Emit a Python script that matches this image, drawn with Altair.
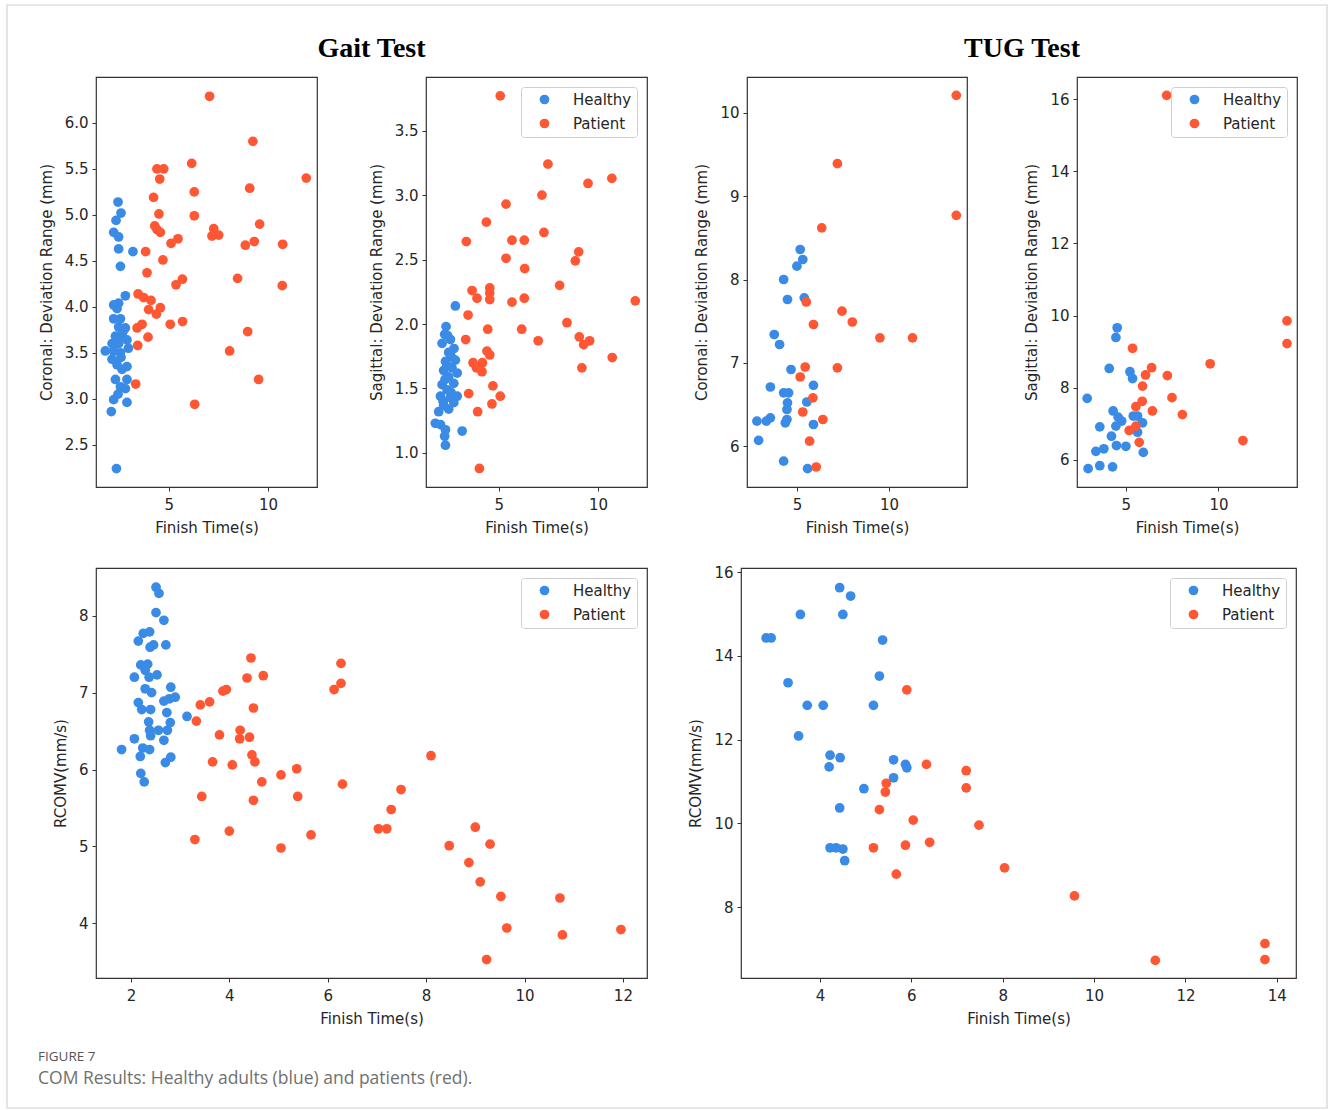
import altair as alt
import pandas as pd

BLUE = "#3A8BE6"
RED = "#FF5733"
GROUPS = ["Healthy", "Patient"]

# ---------------- Gait test: coronal deviation range ----------------
g_cor_h_x = [2.45, 2.60, 2.35, 2.23, 2.48, 2.48, 2.57, 3.20, 2.82, 2.48, 2.23, 2.40, 2.23, 2.57,
             2.82, 2.48, 2.32, 2.65, 2.90, 2.48, 2.97, 1.81, 2.23, 2.57, 2.15, 2.40, 2.90, 2.65,
             2.32, 2.90, 2.57, 2.82, 2.45, 2.23, 2.90, 2.11, 2.37, 2.70, 2.15, 2.60]
g_cor_h_y = [5.14, 5.02, 4.94, 4.81, 4.76, 4.63, 4.44, 4.60, 4.12, 4.04, 4.02, 3.98, 3.87, 3.87,
             3.77, 3.78, 3.68, 3.68, 3.64, 3.60, 3.55, 3.52, 3.52, 3.50, 3.43, 3.37, 3.35, 3.32,
             3.21, 3.21, 3.13, 3.11, 3.05, 2.99, 2.96, 2.86, 2.24, 3.73, 3.60, 3.45]
g_cor_p_x = [7.06, 9.24, 6.16, 4.41, 4.75, 4.55, 11.93, 4.24, 9.08, 6.29, 4.51, 6.29, 4.30, 4.41,
             4.58, 7.27, 7.18, 7.52, 9.58, 5.47, 5.12, 8.86, 9.31, 10.74, 3.84, 4.71, 3.91, 5.37,
             5.69, 8.47, 10.72, 3.46, 3.74, 4.11, 3.99, 4.58, 4.38, 3.41, 3.66, 5.08, 5.70, 3.96,
             3.44, 8.98, 8.07, 3.34, 9.53, 6.31]
g_cor_p_y = [6.29, 5.80, 5.56, 5.50, 5.50, 5.39, 5.40, 5.19, 5.29, 5.25, 5.01, 4.99, 4.88, 4.84,
             4.81, 4.85, 4.77, 4.78, 4.90, 4.74, 4.69, 4.67, 4.71, 4.68, 4.60, 4.51, 4.37, 4.24,
             4.30, 4.31, 4.23, 4.14, 4.10, 4.07, 3.97, 3.99, 3.92, 3.77, 3.81, 3.81, 3.84, 3.67,
             3.58, 3.73, 3.52, 3.16, 3.21, 2.94]

# ---------------- Gait test: sagittal deviation range ----------------
g_sag_h_x = [2.82, 2.35, 2.28, 2.57, 2.15, 2.75, 2.48, 2.82, 2.32, 2.65, 2.23, 2.91, 2.48, 2.15,
             2.74, 2.40, 2.91, 2.57, 2.07, 2.23, 2.74, 2.48, 1.98, 1.81, 2.07, 2.32, 3.16, 2.28,
             2.32, 2.43, 2.60, 2.40, 2.30, 2.60, 2.20]
g_sag_h_y = [2.14, 1.98, 1.92, 1.88, 1.85, 1.81, 1.78, 1.72, 1.71, 1.66, 1.64, 1.62, 1.59, 1.53,
             1.54, 1.49, 1.44, 1.43, 1.44, 1.37, 1.39, 1.34, 1.32, 1.23, 1.22, 1.18, 1.17, 1.13,
             1.06, 1.91, 1.75, 1.68, 1.57, 1.47, 1.40]
g_sag_p_x = [5.08, 7.48, 10.70, 9.50, 7.18, 5.37, 4.38, 3.37, 5.67, 6.29, 7.28, 5.37, 6.31, 9.03,
             8.86, 8.07, 3.66, 3.91, 4.55, 4.55, 4.55, 5.67, 6.29, 11.88, 3.46, 6.16, 4.45, 8.44,
             3.34, 6.99, 9.06, 9.28, 9.58, 10.72, 4.41, 4.55, 3.71, 4.18, 3.88, 4.16, 9.19, 3.49,
             4.71, 5.08, 4.66, 3.94, 4.03]
g_sag_p_y = [3.77, 3.24, 3.13, 3.09, 3.00, 2.93, 2.79, 2.64, 2.65, 2.65, 2.71, 2.51, 2.43, 2.56,
             2.49, 2.30, 2.26, 2.20, 2.28, 2.24, 2.19, 2.17, 2.20, 2.18, 2.07, 1.96, 1.96, 2.01,
             1.88, 1.87, 1.90, 1.84, 1.87, 1.74, 1.79, 1.76, 1.70, 1.70, 1.66, 1.63, 1.66, 1.46,
             1.52, 1.44, 1.38, 1.32, 0.88]

# ---------------- TUG test: coronal deviation range ----------------
t_cor_h_x = [5.18, 5.32, 5.00, 4.28, 4.49, 5.40, 3.77, 4.06, 4.68, 3.56, 5.90, 4.28, 4.55, 4.49,
             5.54, 4.46, 2.83, 3.34, 3.56, 4.46, 4.37, 5.90, 2.92, 4.28, 5.58]
t_cor_h_y = [8.36, 8.24, 8.16, 8.00, 7.76, 7.78, 7.34, 7.22, 6.92, 6.71, 6.73, 6.64, 6.64, 6.52,
             6.53, 6.44, 6.30, 6.30, 6.34, 6.32, 6.28, 6.26, 6.07, 5.82, 5.73]
t_cor_p_x = [13.66, 13.66, 7.20, 6.35, 5.51, 7.45, 8.01, 5.90, 9.51, 11.28, 5.45, 7.20, 5.18, 5.87,
             5.32, 6.41, 5.69, 6.05]
t_cor_p_y = [10.21, 8.77, 9.39, 8.62, 7.73, 7.62, 7.49, 7.46, 7.30, 7.30, 6.95, 6.94, 6.83, 6.58,
             6.41, 6.32, 6.06, 5.75]

# ---------------- TUG test: sagittal deviation range ----------------
t_sag_h_x = [4.53, 4.46, 4.10, 5.22, 5.36, 2.91, 4.31, 4.58, 4.77, 5.40, 5.63, 5.90, 4.46, 3.59,
             4.22, 5.63, 4.49, 5.00, 3.38, 3.81, 5.94, 2.96, 3.59, 4.28]
t_sag_h_y = [9.66, 9.39, 8.53, 8.44, 8.25, 7.70, 7.35, 7.18, 7.07, 7.21, 7.21, 7.02, 6.93, 6.91,
             6.65, 6.76, 6.39, 6.37, 6.23, 6.30, 6.20, 5.75, 5.83, 5.80]
t_sag_p_x = [7.20, 13.70, 13.70, 5.36, 9.55, 6.39, 6.06, 7.24, 5.90, 5.88, 7.49, 5.54, 6.43, 8.05,
             5.18, 5.54, 5.72, 11.32]
t_sag_p_y = [16.11, 9.85, 9.22, 9.09, 8.66, 8.55, 8.35, 8.33, 8.04, 7.62, 7.72, 7.47, 7.35, 7.25,
             6.81, 6.93, 6.48, 6.53]

# ---------------- Gait test: RCOMV ----------------
g_rc_h_x = [2.51, 2.57, 2.51, 2.67, 2.25, 2.38, 2.15, 2.39, 2.46, 2.71, 2.20, 2.34, 2.07, 2.29,
            2.53, 2.37, 2.81, 2.29, 2.42, 2.90, 2.67, 2.15, 2.78, 2.22, 2.40, 2.73, 3.14, 2.36,
            2.80, 2.38, 2.56, 2.74, 2.40, 2.67, 2.07, 1.81, 2.24, 2.38, 2.19, 2.81, 2.70, 2.20,
            2.27]
g_rc_h_y = [8.37, 8.29, 8.04, 7.94, 7.77, 7.79, 7.67, 7.59, 7.62, 7.62, 7.36, 7.37, 7.20, 7.29,
            7.23, 7.20, 7.07, 7.05, 7.00, 6.94, 6.89, 6.87, 6.92, 6.78, 6.78, 6.74, 6.69, 6.62,
            6.61, 6.51, 6.51, 6.51, 6.44, 6.38, 6.40, 6.26, 6.28, 6.26, 6.17, 6.16, 6.09, 5.95,
            5.84]
g_rc_p_x = [4.44, 6.27, 4.36, 4.69, 6.27, 6.13, 3.87, 3.94, 3.41, 3.60, 4.49, 3.33, 3.80, 4.22,
            4.21, 4.41, 4.46, 4.52, 3.66, 4.06, 6.30, 4.66, 5.05, 5.37, 3.44, 5.39, 4.49, 4.00,
            3.30, 5.66, 5.05, 8.10, 7.49, 7.29, 7.03, 7.20, 9.00, 8.47, 9.30, 8.87, 9.10, 9.52,
            10.72, 9.64, 10.77, 11.96, 9.23]
g_rc_p_y = [7.45, 7.38, 7.19, 7.22, 7.12, 7.04, 7.02, 7.04, 6.84, 6.88, 6.80, 6.63, 6.45, 6.51,
            6.40, 6.42, 6.19, 6.10, 6.10, 6.06, 5.81, 5.84, 5.93, 6.01, 5.65, 5.65, 5.60, 5.20,
            5.09, 5.15, 4.98, 6.18, 5.74, 5.48, 5.23, 5.23, 5.25, 5.01, 5.03, 4.79, 4.54, 4.35,
            4.33, 3.94, 3.85, 3.92, 3.53]

# ---------------- TUG test: RCOMV ----------------
t_rc_h_x = [4.43, 4.67, 3.57, 4.50, 2.82, 2.93, 5.37, 5.30, 3.30, 3.72, 4.07, 5.17, 3.53, 4.22,
            4.44, 4.20, 5.61, 5.87, 5.90, 5.61, 4.96, 4.43, 4.22, 4.35, 4.50, 4.54]
t_rc_h_y = [15.63, 15.43, 14.99, 14.99, 14.43, 14.43, 14.38, 13.52, 13.36, 12.82, 12.82, 12.82,
            12.09, 11.63, 11.57, 11.35, 11.52, 11.41, 11.33, 11.09, 10.83, 10.37, 9.42, 9.42,
            9.39, 9.11]
t_rc_p_x = [5.90, 6.33, 7.20, 7.20, 5.45, 5.43, 5.30, 6.04, 7.48, 5.17, 5.87, 6.40, 5.67, 8.04,
            9.57, 11.34, 13.74, 13.74]
t_rc_p_y = [13.19, 11.41, 11.26, 10.85, 10.96, 10.75, 10.33, 10.08, 9.96, 9.42, 9.48, 9.55, 8.79,
            8.94, 8.27, 6.73, 7.13, 6.75]

X_TITLE = "Finish Time(s)"
FONT = "DejaVu Sans"
INK = "#262626"


def table(hx, hy, px, py):
    return pd.DataFrame({
        "x": list(hx) + list(px),
        "y": list(hy) + list(py),
        "group": ["Healthy"] * len(hx) + ["Patient"] * len(px),
    })


def legend_spec():
    return alt.Legend(
        title=None, orient="top-right", offset=10, padding=5,
        symbolOffset=11, labelOffset=21, rowPadding=8,
        fillColor="white", strokeColor="#cfcfcf", cornerRadius=3,
        labelFont=FONT, labelFontSize=15, labelColor=INK,
        symbolType="circle", symbolSize=95, symbolStrokeWidth=0,
        symbolOpacity=1,
    )


def panel(df, xdom, ydom, xticks, yticks, xfmt, yfmt, ytitle, legend, w, h):
    color = alt.Color(
        "group:N",
        scale=alt.Scale(domain=GROUPS, range=[BLUE, RED]),
        legend=legend_spec() if legend else None,
        sort=GROUPS,
    )
    return alt.Chart(df).mark_circle(size=95, opacity=1).encode(
        x=alt.X("x:Q", scale=alt.Scale(domain=xdom, nice=False, zero=False),
                axis=alt.Axis(values=xticks, format=xfmt, title=X_TITLE)),
        y=alt.Y("y:Q", scale=alt.Scale(domain=ydom, nice=False, zero=False),
                axis=alt.Axis(values=yticks, format=yfmt, title=ytitle)),
        color=color,
    ).properties(width=w, height=h)


p1 = panel(table(g_cor_h_x, g_cor_h_y, g_cor_p_x, g_cor_p_y), [1.34, 12.47], [2.04, 6.50],
           [5, 10], [2.5, 3.0, 3.5, 4.0, 4.5, 5.0, 5.5, 6.0], "d", ".1f",
           "Coronal: Deviation Range (mm)", False, 221, 410)
p2 = panel(table(g_sag_h_x, g_sag_h_y, g_sag_p_x, g_sag_p_y), [1.34, 12.47], [0.736, 3.916],
           [5, 10], [1.0, 1.5, 2.0, 2.5, 3.0, 3.5], "d", ".1f",
           "Sagittal: Deviation Range (mm)", True, 221, 410)
p3 = panel(table(t_cor_h_x, t_cor_h_y, t_cor_p_x, t_cor_p_y), [2.29, 14.24], [5.51, 10.43],
           [5, 10], [6, 7, 8, 9, 10], "d", "d",
           "Coronal: Deviation Range (mm)", False, 220, 410)
p4 = panel(table(t_sag_h_x, t_sag_h_y, t_sag_p_x, t_sag_p_y), [2.36, 14.24], [5.24, 16.62],
           [5, 10], [6, 8, 10, 12, 14, 16], "d", "d",
           "Sagittal: Deviation Range (mm)", True, 220, 410)
p5_pts = panel(table(g_rc_h_x, g_rc_h_y, g_rc_p_x, g_rc_p_y), [1.29, 12.49], [3.29, 8.62],
               [2, 4, 6, 8, 10, 12], [4, 5, 6, 7, 8], "d", "d",
               "RCOMV(mm/s)", True, 551, 410)
p6 = panel(table(t_rc_h_x, t_rc_h_y, t_rc_p_x, t_rc_p_y), [2.27, 14.42], [6.31, 16.1],
           [4, 6, 8, 10, 12, 14], [8, 10, 12, 14, 16], "d", "d",
           "RCOMV(mm/s)", True, 555, 410)

one = alt.Data(values=[{"k": 1}])

# figure frame and caption (page decoration), drawn relative to the lower-left panel
border = alt.Chart(one).mark_rect(fill="transparent", stroke="#d2d2d2", strokeWidth=1.2).encode(
    x=alt.value(-89), x2=alt.value(1231), y=alt.value(-563), y2=alt.value(540))
fig_label = alt.Chart(one).mark_text(
    text="FIGURE 7", align="left", baseline="middle", font="Open Sans",
    fontSize=13.5, color="#555555").encode(x=alt.value(-58), y=alt.value(489))
fig_caption = alt.Chart(one).mark_text(
    text="COM Results: Healthy adults (blue) and patients (red).", align="left",
    baseline="middle", font="Open Sans", fontSize=17.5, color="#707070").encode(
    x=alt.value(-58), y=alt.value(511))
p5 = alt.layer(border, p5_pts, fig_label, fig_caption)

title_style = dict(font="Liberation Serif", fontSize=28, fontWeight="bold",
                   color="#000000", anchor="middle", offset=8)


def spacer(w, title=None):
    c = alt.Chart(one).mark_text(text="").encode(x=alt.value(0), y=alt.value(0)).properties(
        width=w, height=410, view=alt.ViewBackground(stroke="transparent"))
    if title:
        c = c.properties(title=alt.Title(title, **title_style))
    return c


row1 = alt.hconcat(
    p1, spacer(109, "Gait Test"), p2, spacer(100), p3, spacer(110, "TUG Test"), p4,
    spacing=0, bounds="flush",
).resolve_scale(color="independent")
row2 = alt.hconcat(p5, spacer(94), p6, spacing=0, bounds="flush").resolve_scale(
    color="independent")

# with flush bounds a nested row counts as zero height, so the row step is
# the panel height (410) plus the gap between rows (81)
chart = alt.vconcat(row1, row2, spacing=491, bounds="flush").resolve_scale(
    color="independent"
).properties(
    padding={"left": 5, "top": 3, "right": 0, "bottom": 0},
    autosize=alt.AutoSizeParams(type="pad"),
    background="white",
).configure_view(
    stroke="#333333", strokeWidth=1.2
).configure_axis(
    domain=False, grid=False, ticks=True, tickColor="#333333", tickSize=4, tickWidth=1,
    labelFont=FONT, labelFontSize=15, labelColor=INK, labelPadding=4,
    labelFlush=False, labelOverlap=False,
    titleFont=FONT, titleFontSize=15, titleFontWeight="normal", titleColor=INK,
).configure_axisX(
    labelPadding=6, titlePadding=8
).configure_axisY(
    titlePadding=10
)

chart.save("out.html", embed_options={"renderer": "svg", "actions": False})
